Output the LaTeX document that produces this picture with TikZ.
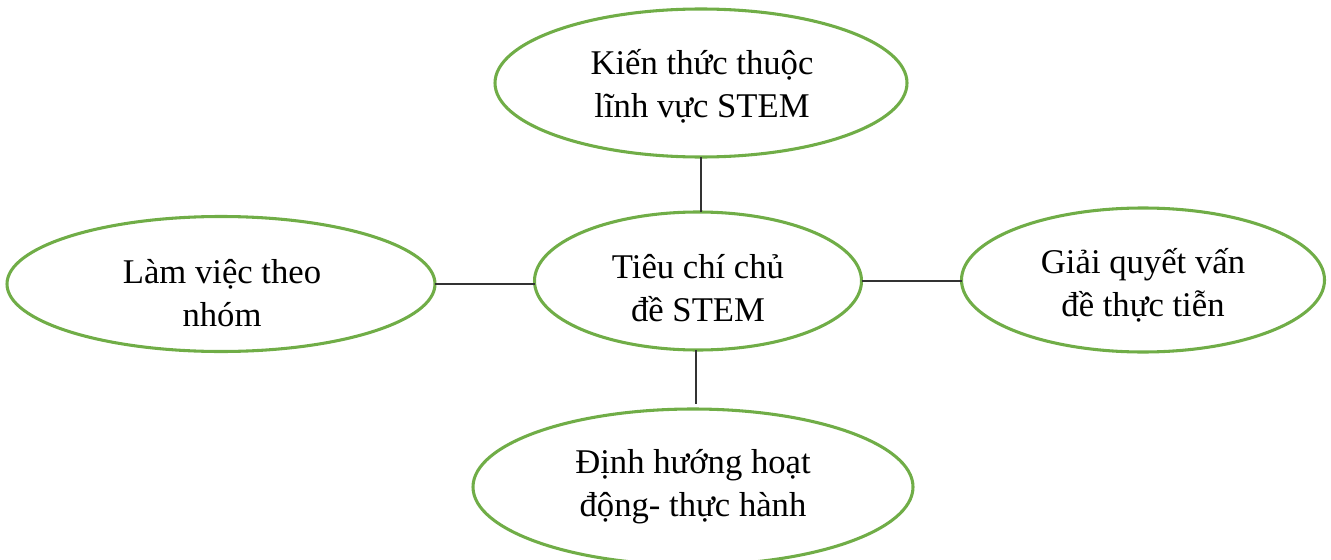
\documentclass[tikz,border=0pt]{standalone}
\usepackage{fontspec}
\setmainfont{Liberation Serif}
\usetikzlibrary{shapes.geometric}
\definecolor{ovalgreen}{HTML}{70AD47}
\definecolor{linegray}{HTML}{333333}
\tikzset{
  oval/.style={draw=ovalgreen, line width=2.3pt, ellipse, inner sep=0pt, outer sep=0pt},
  lbl/.style={align=center, font=\fontsize{26}{32}\selectfont, inner sep=0pt, text=black},
  link/.style={draw=linegray, line width=1.15pt}
}
\begin{document}
\begin{tikzpicture}[x=0.75pt, y=-0.75pt]
\useasboundingbox (0,0) rectangle (1331,560);
% ellipses (sizes in px * 0.75)
\node[oval, minimum width=309pt, minimum height=111pt] (kt) at (701,83) {};
\node[oval, minimum width=245.25pt, minimum height=103.5pt] (tc) at (698,281) {};
\node[oval, minimum width=321pt, minimum height=101.25pt] (lv) at (221,284) {};
\node[oval, minimum width=272.25pt, minimum height=108pt] (gq) at (1143,280) {};
\node[oval, minimum width=330pt, minimum height=117pt] (dh) at (693,487) {};
% texts
\node[lbl] (tkt) at (702,86) {Kiến thức thuộc\\lĩnh vực STEM};
\node[lbl] (ttc) at (698,288) {Tiêu chí chủ\\đề STEM};
\node[lbl] (tlv) at (222,293) {Làm việc theo\\nhóm};
\node[lbl] (tgq) at (1143,285) {Giải quyết vấn\\đề thực tiễn};
\node[lbl] (tdh) at (693,487) {Định hướng hoạt\\động- thực hành};
% connectors
\coordinate (bx) at (696,0);
\draw[link] (kt.south) -- (kt.south |- tc.north);
\draw[link] (lv.east) -- (lv.east -| tc.west);
\draw[link] (tc.east) -- (tc.east -| gq.west);
\draw[link, shorten >=3.5pt] (bx |- tc.south) -- (bx |- dh.north);
\end{tikzpicture}
\end{document}
